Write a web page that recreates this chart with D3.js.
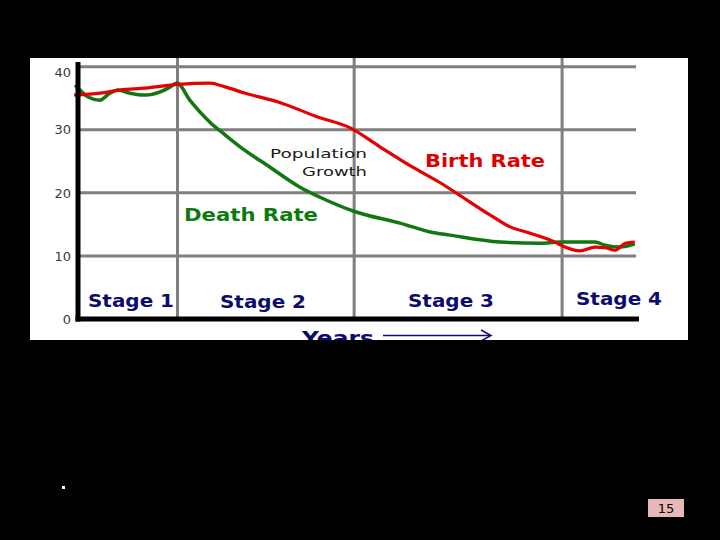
<!DOCTYPE html>
<html>
<head>
  <meta charset="utf-8" />
  <title>Demographic Transition</title>
  <style>
    body { margin: 0; background-color: #000000; }
    svg { display: block; }
  </style>
  <script src="https://cdnjs.cloudflare.com/ajax/libs/d3/7.8.5/d3.min.js"></script>
</head>
<body>
  <div id="chart"></div>
  <script>
    // values (x = time, 0..100 across the plot)
    var birthT = [-0.7, 4, 7.5, 12, 17.9, 23.6, 26.3, 29.9, 35.8, 43, 48.7, 54, 59.4, 64.8, 68.3, 73.7, 77.3, 80.9, 85.3, 87.1, 89.8, 92.5, 94.3, 96.1, 97.9, 99.6];
    var birthRate = [35.5, 35.8, 36.3, 36.6, 37.2, 37.4, 36.8, 35.8, 34.4, 32, 30.3, 27.3, 24.3, 21.6, 19.6, 16.5, 14.6, 13.6, 12.2, 11.4, 10.8, 11.4, 11.3, 10.9, 12.0, 12.2];

    var deathT = [-0.5, 1.8, 3.9, 5.7, 7.2, 9.3, 12, 14.7, 16.5, 17.7, 20, 23.6, 26.3, 29.0, 34.3, 39.7, 43.3, 49.6, 57.6, 63, 66.5, 75.5, 82.6, 86.2, 88.9, 92.5, 94.3, 97, 99.6];
    var deathRate = [37.1, 35.2, 34.7, 35.8, 36.3, 35.8, 35.5, 36, 36.8, 37.4, 34.7, 31.2, 29.2, 27.3, 24.1, 20.9, 19.3, 17.0, 15.2, 13.8, 13.3, 12.2, 12.0, 12.2, 12.2, 12.2, 11.7, 11.4, 11.9];

    var stageNames = ["Stage 1", "Stage 2", "Stage 3", "Stage 4"];
    var stageEnds = [17.8, 49.4, 86.6];
    var yTicks = [0, 10, 20, 30, 40];

    var svg = d3.select("#chart")
      .append("svg")
      .attr("width", 720)
      .attr("height", 540);

    svg.append("rect")
      .attr("width", 720).attr("height", 540)
      .attr("fill", "#000000");

    // white panel
    svg.append("clipPath").attr("id", "panel")
      .append("rect")
      .attr("x", 30).attr("y", 58).attr("width", 658).attr("height", 282);

    svg.append("rect")
      .attr("x", 30).attr("y", 58).attr("width", 658).attr("height", 282)
      .attr("fill", "#ffffff");

    var x = d3.scaleLinear().domain([0, 100]).range([78, 637]);
    var y = d3.scaleLinear().domain([0, 40]).range([319, 66.7]);

    var g = svg.append("g").attr("clip-path", "url(#panel)");

    // grid
    g.append("g")
      .selectAll("line")
      .data(yTicks.filter(function (d) { return d > 0; }))
      .enter()
      .append("line")
      .attr("x1", x(0)).attr("x2", 636)
      .attr("y1", function (d) { return y(d); })
      .attr("y2", function (d) { return y(d); })
      .attr("stroke", "#7f7f7f")
      .attr("stroke-width", 3);

    g.append("g")
      .selectAll("line")
      .data(stageEnds)
      .enter()
      .append("line")
      .attr("x1", function (d) { return x(d); })
      .attr("x2", function (d) { return x(d); })
      .attr("y1", 58).attr("y2", y(0))
      .attr("stroke", "#7f7f7f")
      .attr("stroke-width", 3);

    // y tick labels
    g.append("g")
      .selectAll("text")
      .data(yTicks)
      .enter()
      .append("text")
      .attr("x", 71)
      .attr("y", function (d) { return d == 40 ? y(d) + 6 : y(d); })
      .attr("dy", "0.36em")
      .attr("text-anchor", "end")
      .attr("font-family", "DejaVu Sans, sans-serif")
      .attr("font-size", "13px")
      .attr("fill", "#3a3a3a")
      .text(function (d) { return d; });

    // text labels
    g.append("text")
      .attr("x", 270).attr("y", 158)
      .attr("font-family", "DejaVu Sans, sans-serif")
      .attr("font-size", "13px")
      .attr("fill", "#1a1a1a")
      .attr("textLength", 97).attr("lengthAdjust", "spacingAndGlyphs")
      .text("Population");
    g.append("text")
      .attr("x", 302).attr("y", 176)
      .attr("font-family", "DejaVu Sans, sans-serif")
      .attr("font-size", "13px")
      .attr("fill", "#1a1a1a")
      .attr("textLength", 65).attr("lengthAdjust", "spacingAndGlyphs")
      .text("Growth");

    var line = d3.line()
      .x(function (d) { return x(d[0]); })
      .y(function (d) { return y(d[1]); })
      .curve(d3.curveMonotoneX);

    g.append("path")
      .datum(d3.zip(deathT, deathRate))
      .attr("d", line)
      .attr("fill", "none")
      .attr("stroke", "#117711")
      .attr("stroke-width", 3.5);

    g.append("path")
      .datum(d3.zip(birthT, birthRate))
      .attr("d", line)
      .attr("fill", "none")
      .attr("stroke", "#e60000")
      .attr("stroke-width", 3.2);

    g.append("text")
      .attr("x", 425).attr("y", 167)
      .attr("font-family", "DejaVu Sans, sans-serif")
      .attr("font-size", "18px")
      .attr("font-weight", "bold")
      .attr("fill", "#dd0000")
      .attr("textLength", 120).attr("lengthAdjust", "spacingAndGlyphs")
      .text("Birth Rate");

    g.append("text")
      .attr("x", 184).attr("y", 221)
      .attr("font-family", "DejaVu Sans, sans-serif")
      .attr("font-size", "18px")
      .attr("font-weight", "bold")
      .attr("fill", "#0d7a0d")
      .attr("textLength", 134).attr("lengthAdjust", "spacingAndGlyphs")
      .text("Death Rate");

    // stage labels
    var stageX = [88, 220, 408, 576];
    var stageY = [307, 308, 307, 305];
    g.append("g")
      .selectAll("text")
      .data(stageNames)
      .enter()
      .append("text")
      .attr("x", function (d, i) { return stageX[i]; })
      .attr("y", function (d, i) { return stageY[i]; })
      .attr("font-family", "DejaVu Sans, sans-serif")
      .attr("font-size", "18px")
      .attr("font-weight", "bold")
      .attr("fill", "#0c0c6e")
      .attr("textLength", 86).attr("lengthAdjust", "spacingAndGlyphs")
      .text(function (d) { return d; });

    // axes
    g.append("line")
      .attr("x1", x(0)).attr("x2", x(0))
      .attr("y1", 62).attr("y2", y(0) + 2.5)
      .attr("stroke", "#000000").attr("stroke-width", 5);
    g.append("line")
      .attr("x1", x(0) - 2.5).attr("x2", 639)
      .attr("y1", y(0)).attr("y2", y(0))
      .attr("stroke", "#000000").attr("stroke-width", 5);

    // x axis title, cut by the panel edge
    g.append("text")
      .attr("x", 302).attr("y", 345)
      .attr("font-family", "DejaVu Sans, sans-serif")
      .attr("font-size", "20px")
      .attr("font-weight", "bold")
      .attr("fill", "#0c0c6e")
      .attr("textLength", 72).attr("lengthAdjust", "spacingAndGlyphs")
      .text("Years");
    g.append("line")
      .attr("x1", 383).attr("x2", 490)
      .attr("y1", 335.5).attr("y2", 335.5)
      .attr("stroke", "#0c0c6e").attr("stroke-width", 1.5);
    g.append("path")
      .attr("d", "M481,330 L491,335.5 L481,341")
      .attr("fill", "none")
      .attr("stroke", "#0c0c6e").attr("stroke-width", 1.5);

    // slide bits
    svg.append("rect")
      .attr("x", 62).attr("y", 486).attr("width", 3).attr("height", 3)
      .attr("fill", "#ffffff");
    svg.append("rect")
      .attr("x", 648).attr("y", 499).attr("width", 36).attr("height", 18)
      .attr("fill", "#e6b8b7");
    svg.append("text")
      .attr("x", 666).attr("y", 508)
      .attr("dy", "0.36em")
      .attr("text-anchor", "middle")
      .attr("font-family", "DejaVu Sans, sans-serif")
      .attr("font-size", "13px")
      .attr("fill", "#000000")
      .text("15");
  </script>
</body>
</html>
